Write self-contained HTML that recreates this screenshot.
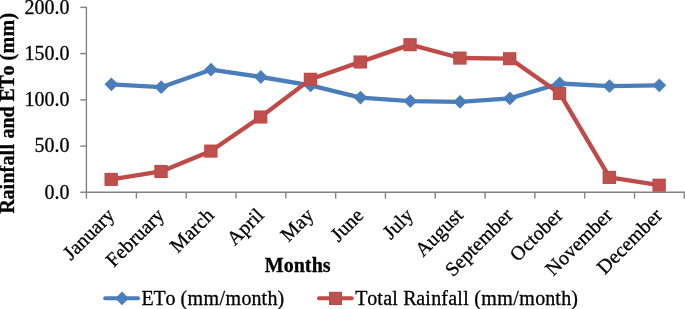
<!DOCTYPE html>
<html><head><meta charset="utf-8"><title>Rainfall and ETo</title>
<style>
html,body{margin:0;padding:0;background:#fff;}
body{width:685px;height:309px;overflow:hidden;}
svg{display:block;will-change:transform;}
text{font-family:"Liberation Serif",serif;font-size:20px;fill:#000;font-kerning:none;stroke:#000;stroke-width:0.3px;}
.b{font-weight:bold;}
</style></head><body>
<svg width="685" height="309" viewBox="0 0 685 309">
<rect width="685" height="309" fill="#fff"/>

<g stroke="#828282" stroke-width="1.4" fill="none">
<line x1="86.4" y1="6.7" x2="86.4" y2="198.6"/>
<line x1="80.3" y1="192.3" x2="684.7" y2="192.3"/>
<line x1="80.3" y1="7.4" x2="86.4" y2="7.4"/>
<line x1="80.3" y1="53.6" x2="86.4" y2="53.6"/>
<line x1="80.3" y1="99.85" x2="86.4" y2="99.85"/>
<line x1="80.3" y1="146.1" x2="86.4" y2="146.1"/>
<line x1="136.41" y1="192.3" x2="136.41" y2="198.6"/>
<line x1="186.22" y1="192.3" x2="186.22" y2="198.6"/>
<line x1="236.03" y1="192.3" x2="236.03" y2="198.6"/>
<line x1="285.84" y1="192.3" x2="285.84" y2="198.6"/>
<line x1="335.65" y1="192.3" x2="335.65" y2="198.6"/>
<line x1="385.46" y1="192.3" x2="385.46" y2="198.6"/>
<line x1="435.27" y1="192.3" x2="435.27" y2="198.6"/>
<line x1="485.08" y1="192.3" x2="485.08" y2="198.6"/>
<line x1="534.89" y1="192.3" x2="534.89" y2="198.6"/>
<line x1="584.70" y1="192.3" x2="584.70" y2="198.6"/>
<line x1="634.51" y1="192.3" x2="634.51" y2="198.6"/>
<line x1="684.32" y1="192.3" x2="684.32" y2="198.6"/>
</g>
<text x="24.6 34.6 44.6 54.6 59.6" y="13.7">200.0</text>
<text x="24.6 34.6 44.6 54.6 59.6" y="59.9">150.0</text>
<text x="24.6 34.6 44.6 54.6 59.6" y="106.15">100.0</text>
<text x="34.6 44.6 54.6 59.6" y="152.4">50.0</text>
<text x="44.6 54.6 59.6" y="198.6">0.0</text>
<text class="b" transform="translate(14,213.6) rotate(-90)" x="0 14 24 30 41 48 58 64 70 75 85 96 107 112 125 138 148 153 160 177 194" y="0">Rainfall and ETo (mm)</text>
<text transform="translate(115.6,216.4) rotate(-45)" x="-62.94 -55.07 -46.08 -35.96 -25.84 -16.86 -10.12" y="0">January</text>
<text transform="translate(165.4,216.4) rotate(-45)" x="-73.06 -61.81 -52.82 -42.7 -35.96 -25.84 -16.86 -10.12" y="0">February</text>
<text transform="translate(215.2,216.4) rotate(-45)" x="-52.82 -34.83 -25.84 -19.1 -10.12" y="0">March</text>
<text transform="translate(265.0,216.4) rotate(-45)" x="-42.72 -28.11 -17.99 -11.25 -5.62" y="0">April</text>
<text transform="translate(314.8,216.4) rotate(-45)" x="-37.1 -19.1 -10.12" y="0">May</text>
<text transform="translate(364.7,216.4) rotate(-45)" x="-37.1 -29.22 -19.1 -8.98" y="0">June</text>
<text transform="translate(414.5,216.4) rotate(-45)" x="-33.74 -25.86 -15.74 -10.12" y="0">July</text>
<text transform="translate(464.3,216.4) rotate(-45)" x="-58.48 -43.86 -33.74 -23.62 -13.5 -5.62" y="0">August</text>
<text transform="translate(514.1,216.4) rotate(-45)" x="-86.55 -75.3 -66.31 -56.19 -50.57 -41.59 -25.84 -15.72 -6.74" y="0">September</text>
<text transform="translate(563.9,216.4) rotate(-45)" x="-65.19 -50.57 -41.59 -35.96 -25.84 -15.72 -6.74" y="0">October</text>
<text transform="translate(613.7,216.4) rotate(-45)" x="-85.43 -70.81 -60.69 -50.57 -41.59 -25.84 -15.72 -6.74" y="0">November</text>
<text transform="translate(663.5,216.4) rotate(-45)" x="-83.15 -68.54 -59.55 -50.57 -41.59 -25.84 -15.72 -6.74" y="0">December</text>
<text class="b" x="264.8 283.8 293.8 304.8 311.8 322.8" y="272">Months</text>
<polyline points="111.4,84.3 161.2,87.2 211.0,69.7 260.8,77.0 310.6,85.4 360.5,97.6 410.3,101.1 460.1,101.8 509.9,98.4 559.7,83.5 609.5,86.1 659.3,85.3" fill="none" stroke="#4a7ebb" stroke-width="4.3" stroke-linejoin="round" stroke-linecap="round"/>
<path d="M104.5 84.3L111.4 77.4L118.3 84.3L111.4 91.2Z" fill="#4a7ebb"/>
<path d="M154.3 87.2L161.2 80.3L168.1 87.2L161.2 94.1Z" fill="#4a7ebb"/>
<path d="M204.1 69.7L211.0 62.8L217.9 69.7L211.0 76.6Z" fill="#4a7ebb"/>
<path d="M253.9 77.0L260.8 70.1L267.7 77.0L260.8 83.9Z" fill="#4a7ebb"/>
<path d="M303.7 85.4L310.6 78.5L317.5 85.4L310.6 92.3Z" fill="#4a7ebb"/>
<path d="M353.6 97.6L360.5 90.7L367.4 97.6L360.5 104.5Z" fill="#4a7ebb"/>
<path d="M403.4 101.1L410.3 94.2L417.2 101.1L410.3 108.0Z" fill="#4a7ebb"/>
<path d="M453.2 101.8L460.1 94.9L467.0 101.8L460.1 108.7Z" fill="#4a7ebb"/>
<path d="M503.0 98.4L509.9 91.5L516.8 98.4L509.9 105.3Z" fill="#4a7ebb"/>
<path d="M552.8 83.5L559.7 76.6L566.6 83.5L559.7 90.4Z" fill="#4a7ebb"/>
<path d="M602.6 86.1L609.5 79.2L616.4 86.1L609.5 93.0Z" fill="#4a7ebb"/>
<path d="M652.4 85.3L659.3 78.4L666.2 85.3L659.3 92.2Z" fill="#4a7ebb"/>
<polyline points="111.4,179.3 161.2,171.4 211.0,151.0 260.8,116.9 310.6,79.2 360.5,61.9 410.3,44.6 460.1,58.0 509.9,58.6 559.7,93.4 609.5,177.3 659.3,185.1" fill="none" stroke="#be4b48" stroke-width="4.3" stroke-linejoin="round" stroke-linecap="round"/>
<rect x="104.50" y="172.85" width="13.4" height="13.1" fill="#be4b48"/><rect x="105.70" y="174.05" width="11" height="10.7" fill="#c0504d"/>
<rect x="154.31" y="164.95" width="13.4" height="13.1" fill="#be4b48"/><rect x="155.52" y="166.15" width="11" height="10.7" fill="#c0504d"/>
<rect x="204.12" y="144.55" width="13.4" height="13.1" fill="#be4b48"/><rect x="205.33" y="145.75" width="11" height="10.7" fill="#c0504d"/>
<rect x="253.94" y="110.45" width="13.4" height="13.1" fill="#be4b48"/><rect x="255.14" y="111.65" width="11" height="10.7" fill="#c0504d"/>
<rect x="303.75" y="72.75" width="13.4" height="13.1" fill="#be4b48"/><rect x="304.94" y="73.95" width="11" height="10.7" fill="#c0504d"/>
<rect x="353.56" y="55.45" width="13.4" height="13.1" fill="#be4b48"/><rect x="354.76" y="56.65" width="11" height="10.7" fill="#c0504d"/>
<rect x="403.37" y="38.15" width="13.4" height="13.1" fill="#be4b48"/><rect x="404.56" y="39.35" width="11" height="10.7" fill="#c0504d"/>
<rect x="453.18" y="51.55" width="13.4" height="13.1" fill="#be4b48"/><rect x="454.38" y="52.75" width="11" height="10.7" fill="#c0504d"/>
<rect x="502.99" y="52.15" width="13.4" height="13.1" fill="#be4b48"/><rect x="504.19" y="53.35" width="11" height="10.7" fill="#c0504d"/>
<rect x="552.80" y="86.95" width="13.4" height="13.1" fill="#be4b48"/><rect x="554.00" y="88.15" width="11" height="10.7" fill="#c0504d"/>
<rect x="602.61" y="170.85" width="13.4" height="13.1" fill="#be4b48"/><rect x="603.80" y="172.05" width="11" height="10.7" fill="#c0504d"/>
<rect x="652.42" y="178.65" width="13.4" height="13.1" fill="#be4b48"/><rect x="653.62" y="179.85" width="11" height="10.7" fill="#c0504d"/>
<line x1="105.2" y1="298.2" x2="138" y2="298.2" stroke="#4a7ebb" stroke-width="4" stroke-linecap="round"/>
<path d="M115.2 298.4L122 291.6L128.8 298.4L122 305.2Z" fill="#4a7ebb"/>
<text x="141.4 153.4 165.4 175.4 180.4 187.4 203.4 219.4 225.4 241.4 251.4 261.4 267.4 277.4" y="305">ETo (mm/month)</text>
<line x1="319" y1="298.2" x2="351.8" y2="298.2" stroke="#be4b48" stroke-width="4" stroke-linecap="round"/>
<rect x="329" y="291.8" width="13" height="13.2" fill="#be4b48"/><rect x="330.2" y="293" width="10.6" height="10.8" fill="#c0504d"/>
<text x="355.2 367.2 377.2 383.2 392.2 398.2 403.2 416.2 425.2 431.2 441.2 448.2 457.2 463.2 469.2 474.2 481.2 497.2 513.2 519.2 535.2 545.2 555.2 561.2 571.2" y="305">Total Rainfall (mm/month)</text>
</svg></body></html>
